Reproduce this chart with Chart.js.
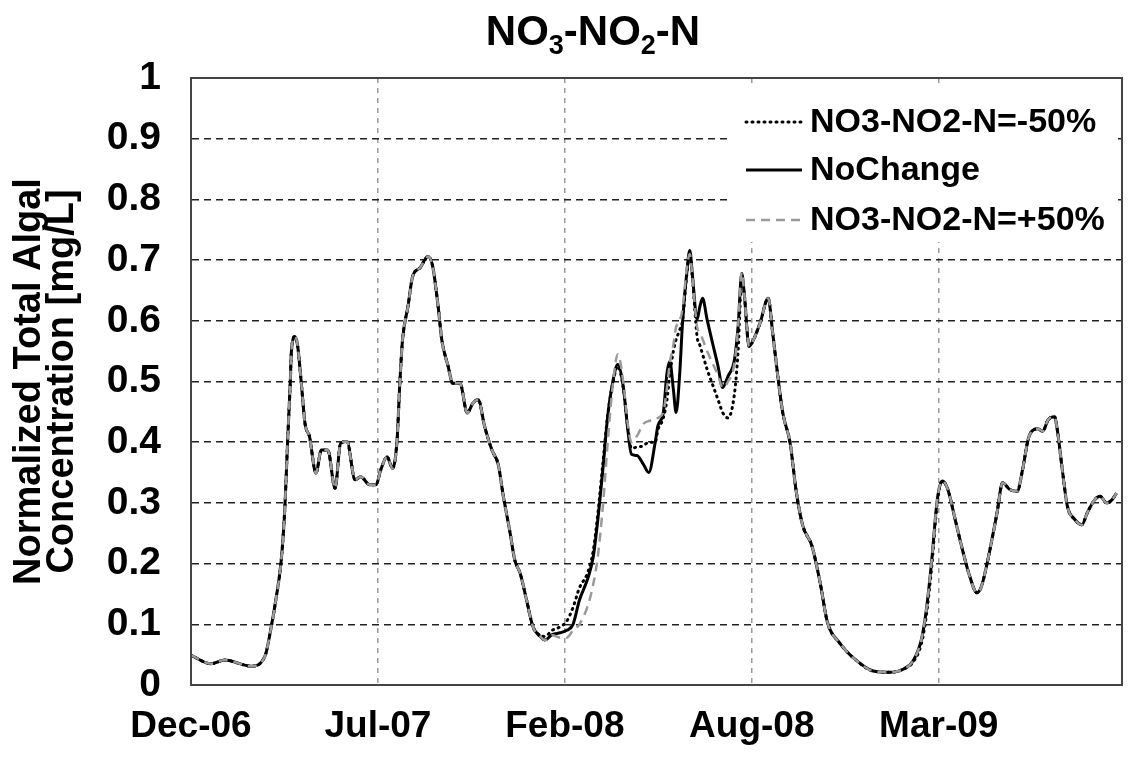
<!DOCTYPE html>
<html><head><meta charset="utf-8">
<script src="https://cdn.jsdelivr.net/npm/chart.js@4/dist/chart.umd.min.js"></script>
<style>html,body{margin:0;padding:0;background:#fff;}#wrap{width:1132px;height:757px;}</style>
</head><body><div id="wrap"><canvas id="c" width="1132" height="757"></canvas></div>
<script>
// ---- data (x = days since start) ----
const days = [0,22,37,66,81,88,93,99,103,106,109,110,114,117,121,125,130,137,143,150,158,164,171,180,186,196,203,208,215,221,226,229,232,238,243,251,260,265,271,275,282,287,295,303,309,315,322,330,337,342,350,355,361,368,375,383,388,396,405,412,419,426,435,441,446,452,457,463,468,474,479,483,489,496,502,509,512,518,522,525,529,532,536,539,544,547,550,555,558,561,566,572,578,583,589,596,600,604,607,612,617,624,633,638,644,649,657,664,671,681,690,698,711,730,748,766,781,792,801,806,812,818,821,824,830,838,845,854,862,867,874,884,890,898,906,912,918,922,929,934,940,947,950,956,961,969,977,983,991,997,1004,1010,1015];
const noChange = [0.049,0.035,0.041,0.031,0.047,0.096,0.14,0.206,0.294,0.404,0.503,0.547,0.574,0.558,0.497,0.431,0.409,0.349,0.387,0.387,0.324,0.398,0.401,0.338,0.343,0.330,0.330,0.354,0.376,0.357,0.404,0.497,0.569,0.624,0.673,0.687,0.706,0.690,0.624,0.569,0.525,0.497,0.497,0.448,0.464,0.470,0.426,0.387,0.363,0.316,0.250,0.206,0.184,0.140,0.096,0.080,0.074,0.083,0.086,0.090,0.100,0.140,0.175,0.210,0.270,0.360,0.443,0.503,0.528,0.492,0.421,0.380,0.378,0.364,0.350,0.399,0.427,0.449,0.514,0.533,0.487,0.449,0.514,0.596,0.684,0.716,0.673,0.602,0.623,0.637,0.602,0.563,0.525,0.490,0.509,0.536,0.591,0.678,0.640,0.558,0.569,0.596,0.637,0.579,0.503,0.448,0.399,0.316,0.262,0.229,0.168,0.103,0.070,0.040,0.023,0.021,0.026,0.040,0.075,0.119,0.200,0.300,0.327,0.336,0.322,0.273,0.229,0.179,0.152,0.163,0.207,0.284,0.333,0.322,0.319,0.355,0.404,0.418,0.422,0.418,0.437,0.442,0.421,0.349,0.295,0.273,0.264,0.284,0.305,0.311,0.300,0.305,0.316];
const minus50 = [0.049,0.035,0.041,0.031,0.047,0.096,0.14,0.206,0.294,0.404,0.503,0.547,0.574,0.558,0.497,0.431,0.409,0.349,0.387,0.387,0.324,0.398,0.401,0.338,0.343,0.330,0.330,0.354,0.376,0.357,0.404,0.497,0.569,0.624,0.673,0.687,0.706,0.690,0.624,0.569,0.525,0.497,0.497,0.448,0.464,0.470,0.426,0.387,0.363,0.316,0.250,0.206,0.184,0.140,0.096,0.082,0.080,0.090,0.096,0.105,0.128,0.160,0.185,0.220,0.280,0.370,0.445,0.500,0.525,0.490,0.425,0.390,0.392,0.394,0.400,0.400,0.420,0.440,0.470,0.510,0.550,0.569,0.585,0.600,0.680,0.710,0.670,0.574,0.560,0.545,0.520,0.495,0.470,0.449,0.440,0.480,0.550,0.670,0.640,0.558,0.569,0.596,0.637,0.579,0.503,0.448,0.399,0.316,0.262,0.229,0.168,0.103,0.070,0.040,0.023,0.021,0.026,0.038,0.068,0.110,0.190,0.295,0.325,0.336,0.322,0.273,0.229,0.179,0.152,0.163,0.207,0.284,0.333,0.322,0.319,0.355,0.404,0.418,0.422,0.418,0.437,0.442,0.421,0.349,0.295,0.273,0.264,0.284,0.305,0.311,0.300,0.305,0.316];
const plus50 = [0.049,0.035,0.041,0.031,0.047,0.096,0.14,0.206,0.294,0.404,0.503,0.547,0.574,0.558,0.497,0.431,0.409,0.349,0.387,0.387,0.324,0.398,0.401,0.338,0.343,0.330,0.330,0.354,0.376,0.357,0.404,0.497,0.569,0.624,0.673,0.687,0.706,0.690,0.624,0.569,0.525,0.497,0.497,0.448,0.464,0.470,0.426,0.387,0.363,0.316,0.250,0.206,0.184,0.140,0.096,0.080,0.074,0.082,0.078,0.078,0.090,0.100,0.130,0.165,0.210,0.300,0.400,0.500,0.545,0.500,0.430,0.400,0.410,0.430,0.435,0.437,0.440,0.450,0.490,0.530,0.560,0.590,0.600,0.620,0.690,0.710,0.670,0.590,0.580,0.570,0.550,0.530,0.510,0.490,0.500,0.530,0.590,0.680,0.640,0.558,0.569,0.596,0.637,0.579,0.503,0.448,0.399,0.316,0.262,0.229,0.168,0.103,0.070,0.040,0.023,0.021,0.026,0.040,0.075,0.119,0.200,0.300,0.327,0.336,0.322,0.273,0.229,0.179,0.152,0.163,0.207,0.284,0.333,0.322,0.319,0.355,0.404,0.418,0.422,0.418,0.437,0.442,0.421,0.349,0.295,0.273,0.264,0.284,0.305,0.311,0.300,0.305,0.316];
const seriesLabels = ['NO3-NO2-N=-50%','NoChange','NO3-NO2-N=+50%'];
const xTickLabels = ['Dec-06','Jul-07','Feb-08','Aug-08','Mar-09'];
const xTickStep = 205;
const xMax = 1021;
const yTickLabels = ['0','0.1','0.2','0.3','0.4','0.5','0.6','0.7','0.8','0.9','1'];
const yTitleLines = ['Normalized Total Algal','Concentration [mg/L]'];
const titleParts = [['NO',0],['3',1],['-NO',0],['2',1],['-N',0]];

const FONT = '"Liberation Sans", Arial, sans-serif';
const toXY = arr => arr.map((v,i)=>({x:days[i], y:v}));

const titlePlugin = {
  id:'titleSub',
  afterDraw(chart){
    const ctx = chart.ctx;
    ctx.save();
    const big = 'bold 42px '+FONT, small = 'bold 27px '+FONT;
    let w = 0;
    titleParts.forEach(([t,s])=>{ctx.font = s?small:big; w += ctx.measureText(t).width;});
    let x = 593 - w/2; const y = 45;
    ctx.fillStyle = '#000'; ctx.textBaseline='alphabetic'; ctx.textAlign='left';
    titleParts.forEach(([t,s])=>{ctx.font = s?small:big; ctx.fillText(t, x, s? y+9 : y); x += ctx.measureText(t).width;});
    ctx.restore();
  }
};
const framePlugin = {
  id:'frameLegend',
  afterDraw(chart){
    const ctx = chart.ctx, a = chart.chartArea;
    ctx.save();
    const bx=732, by=88, bw=386, bh=154;
    ctx.fillStyle='#fff'; ctx.fillRect(bx,by,bw,bh);
    const rows=[122,170,220];
    chart.data.datasets.forEach((ds,i)=>{
      const y = rows[i];
      ctx.beginPath();
      ctx.strokeStyle = ds.borderColor; ctx.lineWidth = ds.borderWidth;
      ctx.setLineDash(ds.borderDash||[]); ctx.lineCap = ds.borderCapStyle||'butt';
      ctx.moveTo(746,y); ctx.lineTo(802,y); ctx.stroke();
      ctx.setLineDash([]);
      ctx.font='bold 34px '+FONT; ctx.fillStyle='#000'; ctx.textBaseline='middle'; ctx.textAlign='left';
      ctx.fillText(ds.label, 810, y+1);
    });
    ctx.strokeStyle='#444'; ctx.lineWidth=2; ctx.setLineDash([]);
    ctx.strokeRect(a.left, a.top, a.right-a.left, a.bottom-a.top);
    ctx.restore();
  }
};

new Chart(document.getElementById('c'), {
  type:'line',
  data:{datasets:[
    {label:seriesLabels[0], data:toXY(minus50), borderColor:'#000', borderWidth:3, borderDash:[1,5], borderCapStyle:'round', order:1},
    {label:seriesLabels[1], data:toXY(noChange), borderColor:'#000', borderWidth:3, order:2},
    {label:seriesLabels[2], data:toXY(plus50), borderColor:'#9a9a9a', borderWidth:2.5, borderDash:[9,6], order:0}
  ]},
  options:{
    responsive:false, animation:false, devicePixelRatio:1,
    layout:{padding:{top:78,right:10,left:0,bottom:0}},
    elements:{point:{radius:0}, line:{tension:0.4, cubicInterpolationMode:'monotone', fill:false}},
    plugins:{legend:{display:false}, tooltip:{enabled:false}, title:{display:false}},
    scales:{
      x:{type:'linear', min:0, max:xMax,
        afterFit(s){s.height=72; s.paddingLeft=0; s.paddingRight=0;},
        afterBuildTicks(s){ s.ticks = xTickLabels.map((_,i)=>({value:i*xTickStep})); },
        grid:{color:'#9a9a9a', lineWidth:1.5, drawTicks:false},
        border:{dash:[5,5], color:'#444', width:2},
        ticks:{autoSkip:false, maxRotation:0, minRotation:0, padding:20, color:'#000',
          font:{family:FONT, size:37, weight:'bold'},
          callback:(v,i)=>xTickLabels[i]}
      },
      y:{min:0, max:1,
        afterFit(s){s.width=191;},
        afterBuildTicks(s){ s.ticks = yTickLabels.map((_,i)=>({value:i/10})); },
        grid:{color:'#222', lineWidth:1.6, drawTicks:false},
        border:{dash:[7,5], color:'#444', width:2},
        ticks:{padding:30, color:'#000', font:{family:FONT, size:39, weight:'bold'}, callback:(v,i)=>yTickLabels[i]},
        title:{display:true, text:yTitleLines, color:'#000', padding:{top:13,bottom:0}, font:{family:FONT, size:38, weight:'bold', lineHeight:0.87}}
      }
    }
  },
  plugins:[titlePlugin, framePlugin]
});
</script></body></html>
